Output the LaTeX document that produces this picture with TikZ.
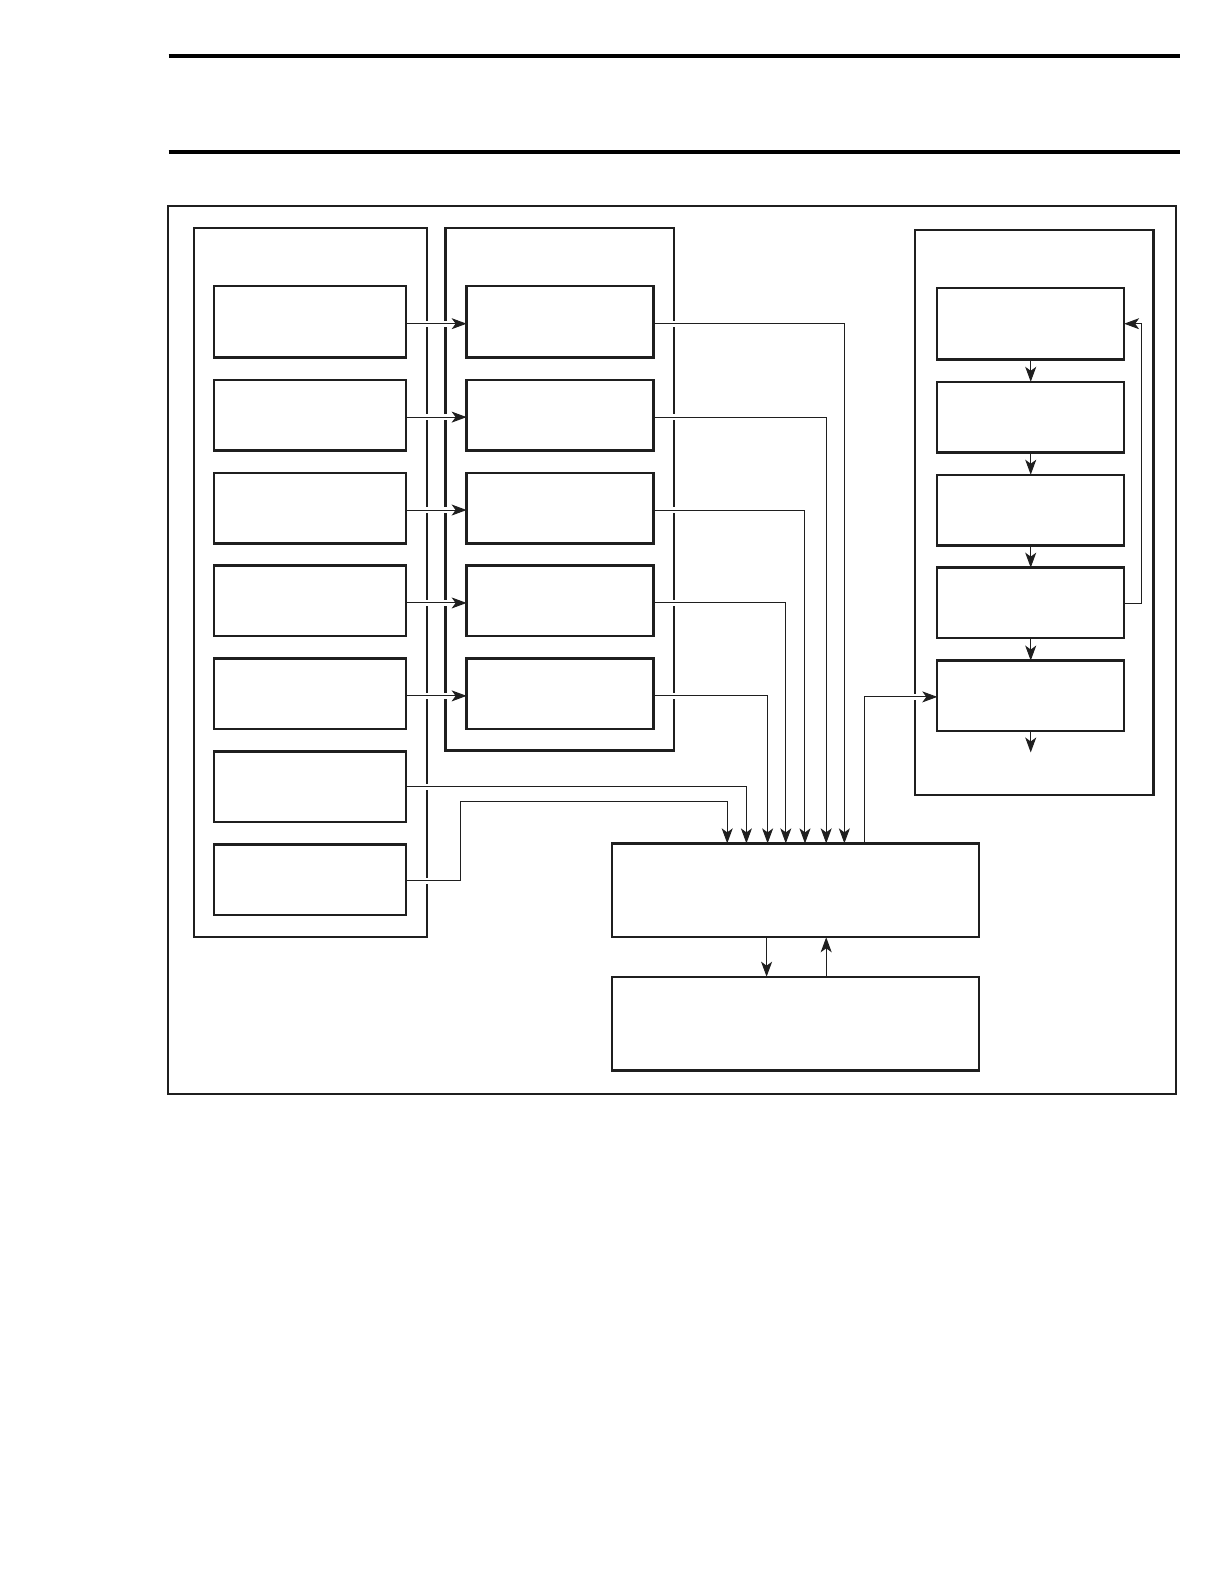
\documentclass[tikz,border=0pt]{standalone}
\usetikzlibrary{arrows.meta,fit}
\pgfdeclarelayer{grp}
\pgfdeclarelayer{cn}
\pgfsetlayers{grp,cn,main}
\begin{document}
\begin{tikzpicture}[x=1.01pt,y=-1.01pt,
  box/.style={draw=black!88,line width=2.3pt,inner sep=0pt,outer sep=0pt,fill=none},
  grpbox/.style={draw=black!88,line width=2.3pt},
  conn/.style={draw=black!88,line width=1pt,-{Stealth[length=15pt,width=11pt,inset=4pt]},
    preaction={draw=white,line width=6pt,-}},
  rulebar/.style={draw=black,line width=4pt}]
\useasboundingbox (0,0) rectangle (1211.9,1568.3);
% header rules
\draw[rulebar] (167,55) -- (1168,55);
\draw[rulebar] (167,150) -- (1168,150);
% outer frame and groups
\begin{pgfonlayer}{grp}
\draw[grpbox] (166,204) rectangle (1164,1083);
\draw[grpbox] (192,226) rectangle (423,928);
\draw[grpbox] (441,226) rectangle (667,743);
\draw[grpbox] (906,228) rectangle (1142,787);
\end{pgfonlayer}
% left boxes
\node[box,fit={(212,283)(402,354)}] (L1) {};
\node[box,fit={(212,376)(402,446)}] (L2) {};
\node[box,fit={(212,468)(402,538)}] (L3) {};
\node[box,fit={(212,560)(402,630)}] (L4) {};
\node[box,fit={(212,652)(402,722)}] (L5) {};
\node[box,fit={(212,744)(402,814)}] (L6) {};
\node[box,fit={(212,836)(402,906)}] (L7) {};
% middle boxes
\node[box,fit={(462,283)(647,354)}] (M1) {};
\node[box,fit={(462,376)(647,446)}] (M2) {};
\node[box,fit={(462,468)(647,538)}] (M3) {};
\node[box,fit={(462,560)(647,630)}] (M4) {};
\node[box,fit={(462,652)(647,722)}] (M5) {};
% right boxes
\node[box,fit={(928,285)(1113,356)}] (R1) {};
\node[box,fit={(928,378)(1113,448)}] (R2) {};
\node[box,fit={(928,470)(1113,540)}] (R3) {};
\node[box,fit={(928,562)(1113,632)}] (R4) {};
\node[box,fit={(928,654)(1113,724)}] (R5) {};
% main boxes
\node[box,fit={(606,835)(969,928)}] (main) {};
\node[box,fit={(606,967)(969,1060)}] (bot) {};
% helper coordinates
\coordinate (x720) at (720,0);
\coordinate (x739) at (739,0);
\coordinate (x760) at (760,0);
\coordinate (x778) at (778,0);
\coordinate (x797) at (797,0);
\coordinate (x818) at (818,0);
\coordinate (x836) at (836,0);
\coordinate (x856) at (856,0);
\coordinate (x759) at (759,0);
\coordinate (j7) at (456,794);
\coordinate (out) at (1020.5,745);
\coordinate (fb) at (1130,0);
\begin{pgfonlayer}{cn}
\foreach \i in {1,...,5} {\draw[conn] ([yshift=-2pt]L\i.east) -- ([yshift=-2pt]M\i.west);}
\draw[conn] ([yshift=-2pt]M1.east) -| (main.north -| x836);
\draw[conn] ([yshift=-2pt]M2.east) -| (main.north -| x818);
\draw[conn] ([yshift=-2pt]M3.east) -| (main.north -| x797);
\draw[conn] ([yshift=-2pt]M4.east) -| (main.north -| x778);
\draw[conn] ([yshift=-2pt]M5.east) -| (main.north -| x760);
\draw[conn] (L6.east) -| (main.north -| x739);
\draw[conn] ([yshift=-1pt]L7.east) -| (j7) -| (main.north -| x720);
\draw[conn] (main.north -| x856) |- ([yshift=-1pt]R5.west);
\draw[conn] (R1.south) -- (R2.north);
\draw[conn] (R2.south) -- (R3.north);
\draw[conn] (R3.south) -- (R4.north);
\draw[conn] (R4.south) -- (R5.north);
\draw[conn] (R5.south) -- (out);
\draw[conn] ([yshift=-1pt]R4.east) -| (fb |- R4.east) |- (R1.east);
\draw[conn] (main.south -| x759) -- (bot.north -| x759);
\draw[conn] (bot.north -| x818) -- (main.south -| x818);
\end{pgfonlayer}
\end{tikzpicture}
\end{document}
